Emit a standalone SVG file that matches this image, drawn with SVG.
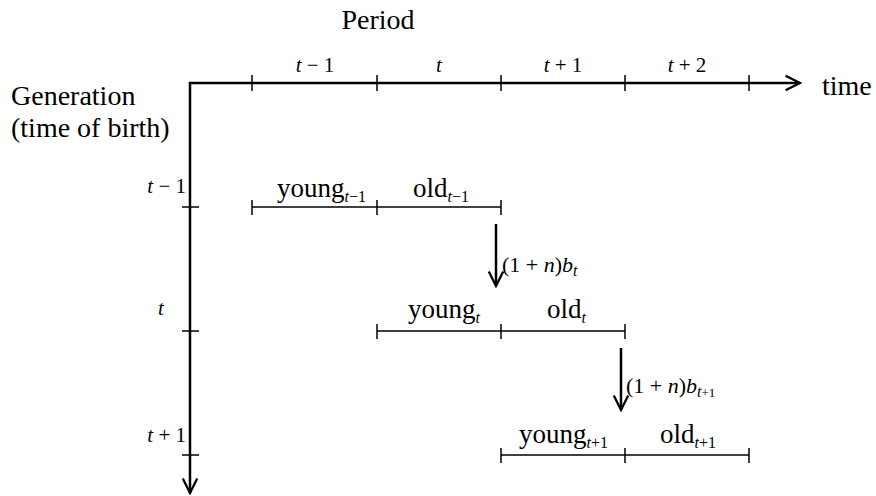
<svg xmlns="http://www.w3.org/2000/svg" width="876" height="496" viewBox="0 0 876 496">
<style>
text{font-family:"Liberation Serif","Times New Roman",serif;fill:#000}
.ax{stroke:#000;stroke-width:2.5;fill:none}
.ln{stroke:#000;stroke-width:1.5;fill:none}
.big{font-size:28px}
.lab{font-size:27px}
.per{font-size:21px}
.tr{font-size:22px}
.sub{font-size:16px;font-style:italic}
.sn{font-size:16px}
.i{font-style:italic}
</style>
<defs>
<marker id="ah2" viewBox="0 0 20 20" refX="18" refY="10" markerWidth="18" markerHeight="18" markerUnits="userSpaceOnUse" orient="auto">
<path d="M2,2 L18,10 L2,18" fill="none" stroke="#000" stroke-width="2.5"/>
</marker>
</defs>
<g id="axes">
<path class="ax" d="M190,84 L190,83 L800,83" marker-end="url(#ah2)"/>
<path class="ax" d="M190,83 L190,493" marker-end="url(#ah2)"/>
<g class="ln">
<line x1="252" y1="75" x2="252" y2="91"/>
<line x1="377" y1="75" x2="377" y2="91"/>
<line x1="501" y1="75" x2="501" y2="91"/>
<line x1="625" y1="75" x2="625" y2="91"/>
<line x1="749" y1="75" x2="749" y2="91"/>
<line x1="182" y1="207" x2="199" y2="207"/>
<line x1="182" y1="331" x2="199" y2="331"/>
<line x1="182" y1="455" x2="199" y2="455"/>
</g>
</g>
<g id="axis-labels">
<text class="big" x="378" y="29" text-anchor="middle">Period</text>
<text class="big" x="822" y="95">time</text>
<text class="big" x="11" y="105">Generation</text>
<text class="big" x="11" y="137">(time of birth)</text>
<text class="per" x="315" y="72" text-anchor="middle"><tspan class="i">t</tspan> − 1</text>
<text class="per" x="439" y="72" text-anchor="middle" font-style="italic">t</text>
<text class="per" x="563" y="72" text-anchor="middle"><tspan class="i">t</tspan> + 1</text>
<text class="per" x="687" y="72" text-anchor="middle"><tspan class="i">t</tspan> + 2</text>
<text class="per" x="186" y="193" text-anchor="end" font-size="19"><tspan class="i">t</tspan> − 1</text>
<text class="per" x="158" y="315" font-style="italic">t</text>
<text class="per" x="186" y="442" text-anchor="end" font-size="19"><tspan class="i">t</tspan> + 1</text>
</g>
<g id="gen-t-1">
<g class="ln">
<line x1="252" y1="207" x2="501" y2="207"/>
<line x1="252" y1="200" x2="252" y2="215"/>
<line x1="377" y1="200" x2="377" y2="215"/>
<line x1="501" y1="200" x2="501" y2="215"/>
</g>
<text class="lab" x="277" y="197">young<tspan class="sub" dy="5">t</tspan><tspan class="sn">−1</tspan></text>
<text class="lab" x="413" y="197">old<tspan class="sub" dy="5">t</tspan><tspan class="sn">−1</tspan></text>
</g>
<g id="gen-t">
<g class="ln">
<line x1="377" y1="331" x2="625" y2="331"/>
<line x1="377" y1="324" x2="377" y2="339"/>
<line x1="501" y1="324" x2="501" y2="339"/>
<line x1="625" y1="324" x2="625" y2="339"/>
</g>
<text class="lab" x="408" y="318">young<tspan class="sub" dy="5">t</tspan></text>
<text class="lab" x="547" y="318">old<tspan class="sub" dy="5">t</tspan></text>
</g>
<g id="gen-t1">
<g class="ln">
<line x1="501" y1="455" x2="749" y2="455"/>
<line x1="501" y1="448" x2="501" y2="463"/>
<line x1="625" y1="448" x2="625" y2="463"/>
<line x1="749" y1="448" x2="749" y2="463"/>
</g>
<text class="lab" x="519" y="443">young<tspan class="sub" dy="5">t</tspan><tspan class="sn">+1</tspan></text>
<text class="lab" x="660" y="443">old<tspan class="sub" dy="5">t</tspan><tspan class="sn">+1</tspan></text>
</g>
<g id="connectors">
<path class="ax" d="M496,224 L496,286" marker-end="url(#ah2)"/>
<path class="ax" d="M621,348 L621,410" marker-end="url(#ah2)"/>
</g>
<g id="transfer-labels">
<text class="tr" x="502" y="272">(1 + <tspan class="i">n</tspan>)<tspan class="i">b</tspan><tspan class="sub" dy="4" font-size="13">t</tspan></text>
<text class="tr" x="626" y="393">(1 + <tspan class="i">n</tspan>)<tspan class="i">b</tspan><tspan class="sub" dy="4" font-size="13">t</tspan><tspan font-size="13">+1</tspan></text>
</g>
</svg>
